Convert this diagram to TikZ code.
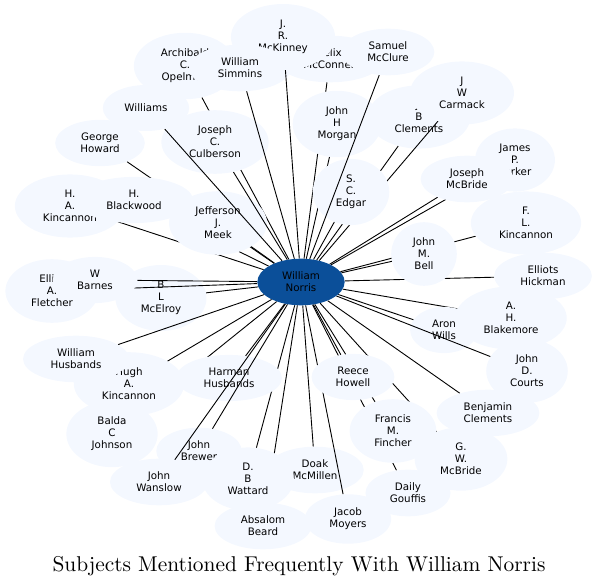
\documentclass[tikz,border=0pt]{standalone}
\usepackage{fontspec}
\newfontfamily\subjfont{DejaVu Sans}
\usepackage{xcolor}
\usepackage{tikz}
\usetikzlibrary{shapes.geometric}

\definecolor{subjfill}{RGB}{244,248,255}
\definecolor{hubfill}{RGB}{11,79,153}

\pgfdeclarelayer{under}
\pgfdeclarelayer{lowlinks}
\pgfdeclarelayer{middle}
\pgfdeclarelayer{highlinks}
\pgfsetlayers{under,lowlinks,middle,highlinks,main}

\begin{document}
\begin{tikzpicture}[x=1pt, y=-1pt,
  subj/.style={ellipse, fill=subjfill, inner xsep=12pt, inner ysep=6.5pt,
               align=center, font=\subjfont\fontsize{10.3}{12}\selectfont},
  wide/.style={subj, inner xsep=14pt},
  hub/.style={subj, fill=hubfill},
  link/.style={draw=black, line width=0.9pt}
]
  \useasboundingbox (0,0) rectangle (598,588);

  % Hub
  \node[hub] (norris) at (301,282) {William\\Norris};

  % Subjects, lowest
  \begin{pgfonlayer}{under}
  \node[subj] (mcconnell)   at (330,59)  {Felix\\McConnell};
  \node[subj] (opelman)     at (185,66)  {Archibald\\C.\\Opelman};
  \node[subj] (mckinney)    at (283,37)  {J.\\R.\\McKinney};
  \node[subj] (bclements)   at (419,117) {J.\\B\\Clements};
  \node[subj] (mcelroy)     at (161,298) {B\\L\\McElroy};
  \node[subj] (fletcher)    at (52,291)  {Elliot\\A.\\Fletcher};
  \node[subj] (hakincannon) at (70,206)  {H.\\A.\\Kincannon};
  \node[subj] (mcmillen)    at (315,470) {Doak\\McMillen};
  \node[subj] (brewer)      at (199,451) {John\\Brewer};
  \node[subj] (parker)      at (515,160) {James\\P.\\Parker};
  \end{pgfonlayer}

  % Subjects, middle
  \begin{pgfonlayer}{middle}
  \node[wide] (simmins)     at (240,68)  {William\\Simmins};
  \node[wide] (carmack)     at (462,93)  {J\\W\\Carmack};
  \node[subj] (morgan)      at (337,124) {John\\H\\Morgan};
  \node[subj] (culberson)   at (215,142) {Joseph\\C.\\Culberson};
  \node[subj] (edgar)       at (351,192) {S.\\C.\\Edgar};
  \node[wide] (blackwood)   at (134,200) {H.\\Blackwood};
  \node[subj] (meek)        at (218,223) {Jefferson\\J.\\Meek};
  \node[subj] (bell)        at (424,254) {John\\M.\\Bell};
  \node[subj] (barnes)      at (95,280)  {W\\Barnes};
  \node[subj] (wills)       at (444,330) {Aron\\Wills};
  \node[subj] (hkincannon)  at (129,384) {Hugh\\A.\\Kincannon};
  \node[subj] (hhusbands)   at (229,378) {Harman\\Husbands};
  \node[subj] (howell)      at (353,377) {Reece\\Howell};
  \node[subj] (fincher)     at (393,431) {Francis\\M.\\Fincher};
  \node[subj] (wattard)     at (248,479) {D.\\B\\Wattard};
  \end{pgfonlayer}

  % Subjects, top
  \node[subj] (mcclure)     at (388,52)  {Samuel\\McClure};
  \node[subj, minimum height=46pt, inner xsep=9pt] (williams) at (146,108) {Williams};
  \node[subj] (howard)      at (100,143) {George\\Howard};
  \node[subj] (jmcbride)    at (467,179) {Joseph\\McBride};
  \node[subj] (flkincannon) at (526,223) {F.\\L.\\Kincannon};
  \node[subj] (hickman)     at (543,276) {Elliots\\Hickman};
  \node[subj] (blakemore)   at (511,318) {A.\\H.\\Blakemore};
  \node[subj] (whusbands)   at (76,359)  {William\\Husbands};
  \node[subj] (courts)      at (527,371) {John\\D.\\Courts};
  \node[subj] (benclements) at (488,413) {Benjamin\\Clements};
  \node[subj] (johnson)     at (112,434) {Balda\\C\\Johnson};
  \node[subj] (gwmcbride)   at (461,459) {G.\\W.\\McBride};
  \node[subj] (wanslow)     at (159,482) {John\\Wanslow};
  \node[subj] (gouffis)     at (408,493) {Daily\\Gouffis};
  \node[subj] (moyers)      at (348,519) {Jacob\\Moyers};
  \node[subj] (beard)       at (263,526) {Absalom\\Beard};

  % Links
  \begin{pgfonlayer}{lowlinks}
  \foreach \n in {opelman,mcconnell,morgan,carmack,bclements,flkincannon,
                  hickman,blakemore,gwmcbride,fincher,gouffis,moyers,beard,
                  wattard,johnson,barnes,fletcher,howard,blackwood,hakincannon}
    \draw[link] (norris) -- (\n);
  \end{pgfonlayer}
  \begin{pgfonlayer}{highlinks}
  \foreach \n in {mckinney,simmins,williams,culberson,meek,parker,jmcbride,
                  edgar,bell,mcclure,mcelroy,wills,courts,whusbands,hkincannon,
                  hhusbands,howell,benclements,mcmillen,brewer,wanslow}
    \draw[link] (norris) -- (\n);
  \end{pgfonlayer}

  % Title
  \node[font=\fontsize{10}{12}\selectfont, scale=2.14, transform shape]
    (title) at (299,566) {Subjects Mentioned Frequently With William Norris};
\end{tikzpicture}
\end{document}
